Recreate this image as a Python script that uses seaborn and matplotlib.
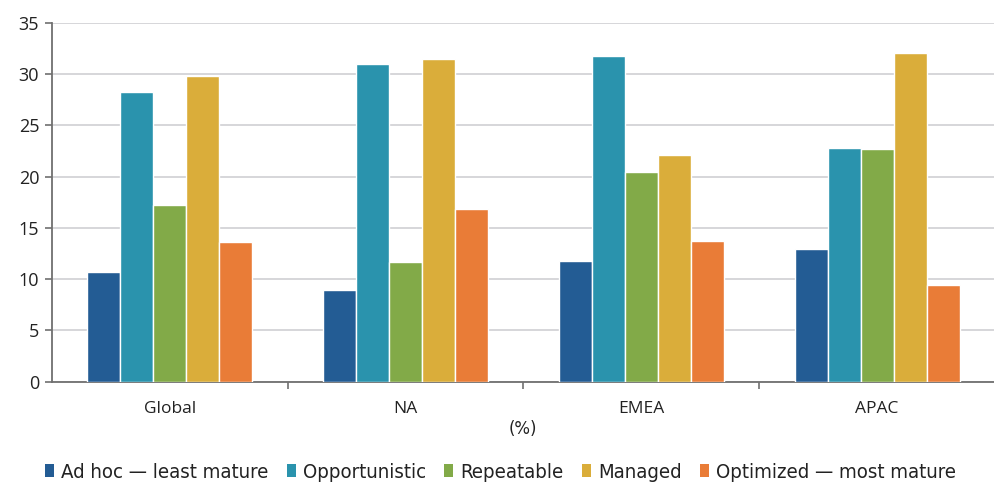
import matplotlib
matplotlib.use("Agg")
import matplotlib.pyplot as plt
import seaborn as sns
import pandas as pd
from matplotlib.ticker import FixedLocator
from matplotlib.patches import Patch
from matplotlib.font_manager import FontProperties

regions = ["Global", "NA", "EMEA", "APAC"]
levels = ["Ad hoc \u2014 least mature", "Opportunistic", "Repeatable", "Managed",
          "Optimized \u2014 most mature"]
ad_hoc = [10.7, 8.9, 11.8, 12.9]
opportunistic = [28.3, 31.0, 31.8, 22.8]
repeatable = [17.2, 11.7, 20.5, 22.7]
managed = [29.8, 31.5, 22.1, 32.1]
optimized = [13.6, 16.8, 13.7, 9.4]
colors = ["#235C94", "#2A93AD", "#82AA48", "#DAAD3A", "#E97C37"]

series = [ad_hoc, opportunistic, repeatable, managed, optimized]
rows = []
for lvl, vals in zip(levels, series):
    for reg, v in zip(regions, vals):
        rows.append({"region": reg, "level": lvl, "value": v})
df = pd.DataFrame(rows)

sns.set_theme(style="white")
plt.rcParams["font.family"] = ["Open Sans", "DejaVu Sans"]

fig = plt.figure(figsize=(9.95, 4.88), dpi=100)
ax = fig.add_axes([0.052, 0.218, 0.948, 0.735])

sns.barplot(data=df, x="region", y="value", hue="level", order=regions,
            hue_order=levels, palette=colors, saturation=1, width=0.7,
            edgecolor="white", linewidth=1.0, errorbar=None, ax=ax,
            legend=False, zorder=3)

ax.set_ylim(0, 35)
ax.set_xlim(-0.5, 3.5)
ax.set_yticks(range(0, 36, 5))
ax.yaxis.grid(True, color="#CFCFD3", linewidth=1.2, zorder=0)
ax.set_axisbelow(True)
for side in ["top", "right"]:
    ax.spines[side].set_visible(False)
for side in ["left", "bottom"]:
    ax.spines[side].set_color("#707070")
    ax.spines[side].set_linewidth(1.3)

ax.tick_params(axis="y", which="major", left=True, length=5, width=1.2,
               color="#707070", labelsize=13, labelcolor="#222222", pad=4)
ax.tick_params(axis="x", which="major", bottom=False, labelsize=12.5,
               labelcolor="#222222", pad=8)
ax.xaxis.set_minor_locator(FixedLocator([0.5, 1.5, 2.5]))
ax.tick_params(axis="x", which="minor", bottom=True, length=5, width=1.2,
               color="#707070")
ax.set_xlabel("(%)", fontsize=12, color="#222222", labelpad=2,
              family=["DejaVu Sans"])
ax.set_ylabel("")

legend_font = FontProperties(family="DejaVu Sans", stretch="condensed", size=14.6)
handles = [Patch(facecolor=c, edgecolor="none") for c in colors]
fig.legend(handles, levels, loc="center", bbox_to_anchor=(0.503, 0.032),
           ncol=5, frameon=False, handlelength=0.45, handleheight=0.6,
           handletextpad=0.35, columnspacing=0.9, prop=legend_font,
           labelcolor="#222222")

fig.savefig("out.png", dpi=100)
